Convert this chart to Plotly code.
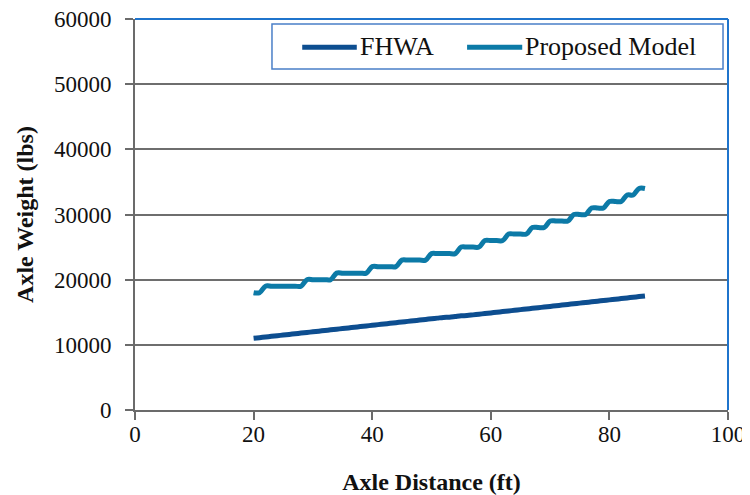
import plotly.graph_objects as go

distance_ft = list(range(20, 87))

fhwa_lbs = [11000, 11100, 11200, 11300, 11400, 11500, 11600, 11700, 11800, 11900,
            12000, 12100, 12200, 12300, 12400, 12500, 12600, 12700, 12800, 12900,
            13000, 13100, 13200, 13300, 13400, 13500, 13600, 13700, 13800, 13900,
            14000, 14100, 14200, 14250, 14350, 14450, 14500, 14600, 14700, 14800,
            14900, 15000, 15100, 15200, 15300, 15400, 15500, 15600, 15700, 15800,
            15900, 16000, 16100, 16200, 16300, 16400, 16500, 16600, 16700, 16800,
            16900, 17000, 17100, 17200, 17300, 17400, 17500]

proposed_lbs = [18000, 18000,
                19000, 19000, 19000, 19000, 19000, 19000, 19000,
                20000, 20000, 20000, 20000, 20000,
                21000, 21000, 21000, 21000, 21000, 21000,
                22000, 22000, 22000, 22000, 22000,
                23000, 23000, 23000, 23000, 23000,
                24000, 24000, 24000, 24000, 24000,
                25000, 25000, 25000, 25000,
                26000, 26000, 26000, 26000,
                27000, 27000, 27000, 27000,
                28000, 28000, 28000,
                29000, 29000, 29000, 29000,
                30000, 30000, 30000,
                31000, 31000, 31000,
                32000, 32000, 32000,
                33000, 33000,
                34000, 34000]

series_names = ["FHWA", "Proposed Model"]
series_colors = ["#0d4e90", "#0c7aa7"]

x_ticks = [0, 20, 40, 60, 80, 100]
x_tick_labels = ["0", "20", "40", "60", "80", "100"]
y_ticks = [0, 10000, 20000, 30000, 40000, 50000, 60000]
y_tick_labels = ["0", "10000", "20000", "30000", "40000", "50000", "60000"]

FONT = "Liberation Serif"

fig = go.Figure()
for name, ys, col in zip(series_names, [fhwa_lbs, proposed_lbs], series_colors):
    fig.add_trace(go.Scatter(x=distance_ft, y=ys, name=name, mode="lines", showlegend=False,
                             line=dict(color=col, width=5, shape="spline", smoothing=1)))

# legend drawn as a framed box with line swatches and labels (paper coordinates)
shapes = [
    dict(type="line", xref="paper", yref="paper", x0=0, x1=1, y0=1, y1=1,
         line=dict(color="#1f74cc", width=2), layer="above"),
    dict(type="line", xref="paper", yref="paper", x0=1, x1=1, y0=0, y1=1,
         line=dict(color="#1f74cc", width=2), layer="above"),
    dict(type="rect", xref="paper", yref="paper", x0=0.231, x1=0.9916, y0=0.872, y1=0.987,
         line=dict(color="#4a7fc8", width=1.5), fillcolor="white", layer="above"),
]
annotations = []
swatch_x = [(0.282, 0.374), (0.560, 0.653)]
for (sx0, sx1), name, col in zip(swatch_x, series_names, series_colors):
    shapes.append(dict(type="line", xref="paper", yref="paper", x0=sx0, x1=sx1,
                       y0=0.928, y1=0.928, layer="above",
                       line=dict(color=col, width=5)))
    annotations.append(dict(xref="paper", yref="paper", x=sx1 + 0.002, y=0.930,
                            xanchor="left", yanchor="middle", showarrow=False,
                            text=name, font=dict(family=FONT, size=26, color="#111111")))

# page body has an 8px default margin, so the figure is sized/offset to compensate
fig.update_layout(
    width=742, height=487,
    margin=dict(l=127, r=22, t=11, b=85, autoexpand=False),
    paper_bgcolor="white", plot_bgcolor="white",
    font=dict(family=FONT, size=23, color="#111111"),
    showlegend=False,
    xaxis=dict(range=[0, 100], tickvals=x_ticks, ticktext=x_tick_labels,
               showgrid=False, zeroline=False, automargin=False,
               showline=True, linecolor="#6b6b6b", linewidth=2,
               ticks="outside", ticklen=8, tickcolor="#6b6b6b", tickwidth=2,
               ticklabelstandoff=-6, ticklabeloverflow="allow",
               tickfont=dict(family=FONT, size=23, color="#111111"),
               title=dict(text="<b>Axle Distance (ft)</b>", standoff=34,
                          font=dict(family=FONT, size=24, color="#111111"))),
    yaxis=dict(range=[0, 60000], tickvals=y_ticks, ticktext=y_tick_labels,
               showgrid=True, gridcolor="#6e6e6e", gridwidth=1.5, zeroline=False,
               automargin=False,
               showline=True, linecolor="#6b6b6b", linewidth=2,
               ticks="outside", ticklen=8, tickcolor="#6b6b6b", tickwidth=2,
               ticklabelstandoff=9, ticklabeloverflow="allow",
               tickfont=dict(family=FONT, size=23, color="#111111"),
               title=dict(text="<b>Axle Weight (lbs)</b>", standoff=14,
                          font=dict(family=FONT, size=24, color="#111111"))),
    shapes=shapes,
    annotations=annotations,
)

fig.write_html("out.html")
